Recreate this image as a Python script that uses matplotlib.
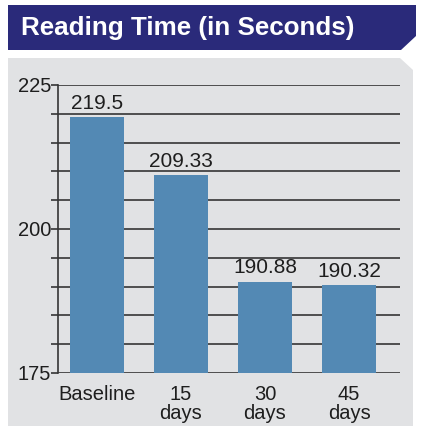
import matplotlib.pyplot as plt
from matplotlib.patches import Polygon

# reading time per checkpoint
categories = ['Baseline', '15\ndays', '30\ndays', '45\ndays']
seconds = [219.5, 209.33, 190.88, 190.32]
value_labels = ['219.5', '209.33', '190.88', '190.32']

navy = '#2a2a7a'
panel = '#e1e2e4'
bar_color = '#5389b4'
line_color = '#353535'
text_color = '#1e1e1e'

plt.rcParams['font.family'] = ['Liberation Sans', 'DejaVu Sans']

W, H = 422, 432
fig = plt.figure(figsize=(W / 100, H / 100), dpi=100)
fig.patch.set_facecolor('white')

def px(x, y):
    # pixel coords (top-left origin) -> figure fraction
    return (x / W, 1 - y / H)

# title banner with a clipped bottom-right corner
banner = Polygon([px(8, 5), px(416, 5), px(416, 36), px(401, 50), px(8, 50)],
                 closed=True, transform=fig.transFigure, facecolor=navy,
                 edgecolor='none', zorder=0)
fig.patches.append(banner)
fig.text(*px(21, 28), 'Reading Time (in Seconds)', color='white',
         fontsize=18.7, fontweight='bold', va='center', ha='left')

# grey chart panel with a clipped top-right corner
back = Polygon([px(8, 58), px(400, 58), px(413, 70), px(413, 426), px(8, 426)],
               closed=True, transform=fig.transFigure, facecolor=panel,
               edgecolor='none', zorder=0)
fig.patches.append(back)

ax = fig.add_axes([58 / W, 1 - 373 / H, (400 - 58) / W, (373 - 85) / H])
ax.set_facecolor('none')
ax.set_zorder(2)

x = range(len(categories))
bars = ax.bar(x, seconds, width=0.643, color=bar_color, zorder=3)
for rect, lab in zip(bars, value_labels):
    ax.annotate(lab, (rect.get_x() + rect.get_width() / 2, rect.get_height()),
                xytext=(0, 3), textcoords='offset points',
                ha='center', va='bottom', fontsize=15, color=text_color)

ax.set_xlim(-0.464, 3.607)
ax.set_ylim(175, 225)
ax.set_yticks([175, 200, 225])
ax.set_yticks(range(175, 226, 5), minor=True)
ax.yaxis.grid(True, which='both', color=line_color, linewidth=1.2, zorder=1)
ax.set_axisbelow(True)
ax.tick_params(axis='y', which='both', direction='out', length=5,
               width=1.2, color=line_color, labelsize=14.5, pad=0,
               labelcolor=text_color)
ax.set_xticks(list(x))
ax.set_xticklabels(categories, fontsize=14.5, color=text_color,
                   linespacing=0.95)
ax.tick_params(axis='x', length=0, pad=9)

for side in ['top', 'right', 'bottom']:
    ax.spines[side].set_visible(False)
ax.spines['left'].set_color(line_color)
ax.spines['left'].set_linewidth(1.2)

fig.savefig('out.png', dpi=100)
